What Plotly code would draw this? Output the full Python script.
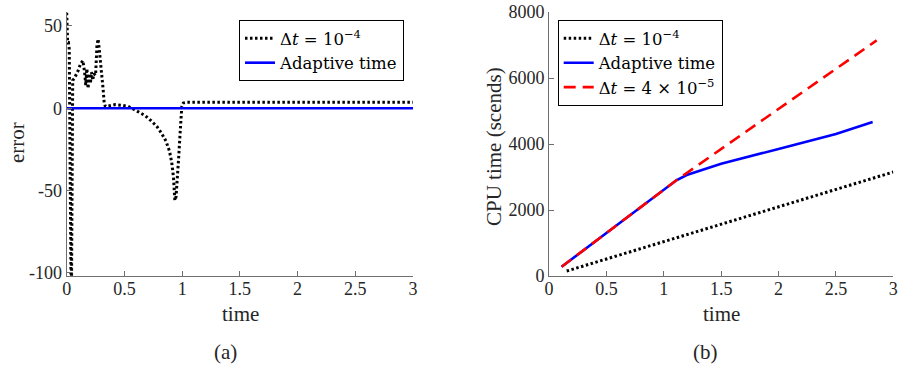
import plotly.graph_objects as go

# ---- data (a): error vs time ----
t_err = [0, 0.003, 0.008, 0.015, 0.022, 0.027, 0.032, 0.037, 0.042, 0.047, 0.052,
         0.065, 0.08, 0.1, 0.12, 0.14, 0.155, 0.165, 0.175, 0.185, 0.195, 0.205,
         0.215, 0.225, 0.235, 0.25, 0.262, 0.272, 0.282, 0.295, 0.305, 0.315,
         0.325, 0.335, 0.37, 0.42, 0.48, 0.53, 0.58, 0.63, 0.68, 0.73, 0.78,
         0.82, 0.86, 0.89, 0.91, 0.925, 0.937, 0.947, 0.958, 0.97, 0.98, 0.99,
         0.997, 1.01, 1.04, 1.5, 2.0, 2.5, 3.0]
err_dt = [58, 44, 40, 40, 36, -10, -70, -102, -102, -40, 17,
          18, 20, 23, 27, 29, 22, 14, 24, 12, 21, 15, 22, 17, 21, 20, 38,
          42, 36, 24, 19, 12, 3, 1, 1.5, 2.2, 1.8, 1.2, -0.6, -2.5, -4.5,
          -7.5, -11, -15, -20, -26, -33, -42, -56, -54, -45, -30, -18, -7,
          1, 3.2, 3.6, 3.6, 3.6, 3.6, 3.6]
t_adapt_err = [0, 3]
err_adapt = [0, 0]

# ---- data (b): CPU time vs time ----
t_cpu_dt = [0.154, 3.0]
cpu_dt = [150, 3150]
t_cpu_adapt = [0.11, 0.5, 1.0, 1.11, 1.2, 1.5, 2.0, 2.5, 2.82]
cpu_adapt = [280, 1300, 2600, 2900, 3060, 3400, 3850, 4300, 4667]
t_cpu_fine = [0.11, 0.5, 1.0, 1.11, 2.855]
cpu_fine = [280, 1300, 2600, 2900, 7140]

FONT = "Liberation Serif, DejaVu Serif, serif"
LFONT = "DejaVu Serif, Liberation Serif, serif"
AXC = "#6e6e6e"
TXT = "#262626"

lbl_dt = "Δ<i>t</i> = 10<sup>−4</sup>"
lbl_ad = "Adaptive time"
lbl_fine = "Δ<i>t</i> = 4 × 10<sup>−5</sup>"

W, H = 898, 366


def px(x):
    return x / W


def py(y):
    return (H - y) / H


fig = go.Figure()
fig.add_trace(go.Scatter(x=t_err, y=err_dt, mode="lines", name=lbl_dt,
                         line=dict(color="black", width=3, dash="2.5px,2.5px"),
                         xaxis="x", yaxis="y", legend="legend"))
fig.add_trace(go.Scatter(x=t_adapt_err, y=err_adapt, mode="lines", name=lbl_ad,
                         line=dict(color="#0000ff", width=2.6),
                         xaxis="x", yaxis="y", legend="legend"))
fig.add_trace(go.Scatter(x=t_cpu_dt, y=cpu_dt, mode="lines", name=lbl_dt,
                         line=dict(color="black", width=3, dash="2.5px,2.5px"),
                         xaxis="x2", yaxis="y2", legend="legend2"))
fig.add_trace(go.Scatter(x=t_cpu_adapt, y=cpu_adapt, mode="lines", name=lbl_ad,
                         line=dict(color="#0000ff", width=2.6),
                         xaxis="x2", yaxis="y2", legend="legend2"))
fig.add_trace(go.Scatter(x=t_cpu_fine, y=cpu_fine, mode="lines", name=lbl_fine,
                         line=dict(color="#ff0000", width=2.6, dash="12px,7px"),
                         xaxis="x2", yaxis="y2", legend="legend2"))

ydom = [py(276), py(12)]

axis_common = dict(showline=True, linecolor=AXC, linewidth=1, ticks="inside",
                   ticklen=5, tickcolor=AXC, showgrid=False, zeroline=False,
                   tickfont=dict(family=FONT, size=18, color=TXT), mirror=False,
                   automargin=False, ticklabeloverflow="allow")
title_font = dict(family=FONT, size=21, color=TXT)

xt = [0, 0.5, 1, 1.5, 2, 2.5, 3]
xtt = ["0", "0.5", "1", "1.5", "2", "2.5", "3"]


def label(text, x, y, font, angle=0):
    return dict(text=text, x=px(x), y=py(y), xref="paper", yref="paper",
                xanchor="center", yanchor="middle", textangle=angle,
                showarrow=False, font=font)


fig.update_layout(
    width=W, height=H, margin=dict(l=0, r=0, t=0, b=0),
    paper_bgcolor="white", plot_bgcolor="white",
    font=dict(family=FONT, color=TXT),
    xaxis=dict(domain=[px(66.7), px(413)], range=[0, 3], tickvals=xt, ticktext=xtt,
               anchor="y", ticklabelstandoff=-4, **axis_common),
    yaxis=dict(domain=ydom, range=[-102, 58.5], tickvals=[-100, -50, 0, 50],
               ticktext=["-100", "-50", "0", "50"], anchor="x", **axis_common),
    xaxis2=dict(domain=[px(549), px(893.3)], range=[0, 3], tickvals=xt, ticktext=xtt,
                anchor="y2", ticklabelstandoff=-4, **axis_common),
    yaxis2=dict(domain=ydom, range=[0, 8000], tickvals=[0, 2000, 4000, 6000, 8000],
                ticktext=["0", "2000", "4000", "6000", "8000"], anchor="x2",
                **axis_common),
    legend=dict(x=px(404), y=py(20), xanchor="right", yanchor="top",
                bgcolor="white", bordercolor="black", borderwidth=1,
                font=dict(family=LFONT, size=16.5, color="black"), tracegroupgap=0,
                itemwidth=30),
    legend2=dict(x=px(557.7), y=py(20), xanchor="left", yanchor="top",
                 bgcolor="white", bordercolor="black", borderwidth=1,
                 font=dict(family=LFONT, size=16.5, color="black"), tracegroupgap=0,
                 itemwidth=30),
    showlegend=True,
    annotations=[
        label("time", 240, 314, title_font),
        label("time", 721.5, 314, title_font),
        label("error", 17, 143, title_font, -90),
        label("CPU time (scends)", 494, 147, title_font, -90),
        label("(a)", 225.7, 352, title_font),
        label("(b)", 705, 352, title_font),
    ],
)

fig.write_html("out.html",
               config={"displayModeBar": False},
               post_script="document.body.style.margin='0';document.body.style.overflow='hidden';")
